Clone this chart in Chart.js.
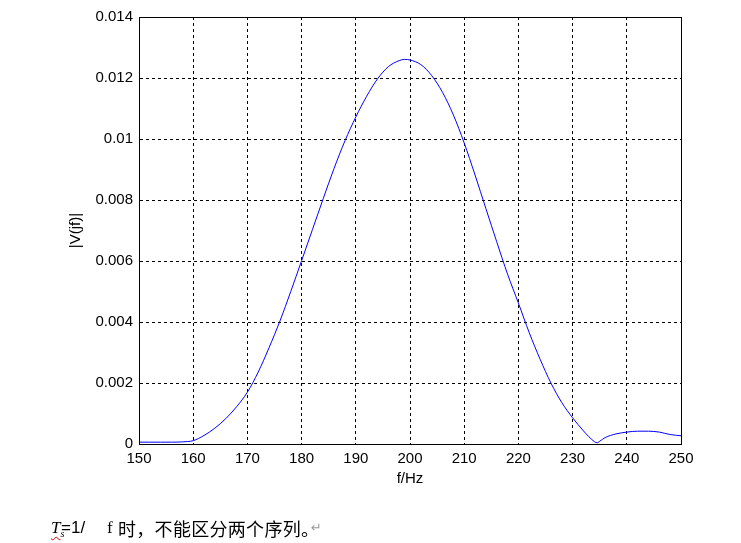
<!DOCTYPE html>
<html>
<head>
<meta charset="utf-8">
<script src="https://cdn.jsdelivr.net/npm/chart.js@4.4.1/dist/chart.umd.min.js"></script>
<style>
  html, body { margin: 0; padding: 0; background: #fff; }
  #wrap { position: relative; width: 741px; height: 543px; overflow: hidden; }
  #c { position: absolute; left: 0; top: 0; }
  .n { position: absolute; top: 516px; color: #000; white-space: pre; line-height: 24px; }
  .t { left: 51px; font-family: "Liberation Serif", serif; font-style: italic; font-size: 17px;
       text-decoration: underline wavy #e00000; text-decoration-thickness: 1px; text-underline-offset: 3px; }
  .eq { left: 61px; font-family: "Liberation Sans", sans-serif; font-size: 17px; }
  .f { left: 107px; font-family: "Liberation Serif", serif; font-size: 17px; }
  .cjk { left: 118px; font-family: "Noto Sans CJK SC", sans-serif; font-size: 18px; letter-spacing: 0.3px; }
  .ret { left: 311px; color: #999; font-family: "DejaVu Sans", sans-serif; font-size: 13px; }
</style>
</head>
<body>
<div id="wrap">
  <canvas id="c" width="741" height="543"></canvas>
  <span class="n t">T<sub style="font-size:10px">s</sub></span>
  <span class="n eq">=1/</span>
  <span class="n f">f</span>
  <span class="n cjk">时，不能区分两个序列。</span>
  <span class="n ret">↵</span>
</div>
<script>
// Frequency (Hz)
const freqs = [150, 152, 154, 156, 158, 160, 162, 164, 166, 168, 170, 172, 174, 176, 178,
  180, 182, 184, 186, 188, 190, 192, 194, 196, 198, 199, 200, 202, 204, 206, 208,
  210, 212, 214, 216, 218, 220, 222, 224, 226, 228, 230, 232, 233, 234, 234.5, 235,
  236, 238, 240, 242, 244, 246, 248, 250];
// |V(jf)|
const mags = [0.00006, 0.00006, 0.00006, 0.00006, 0.00007, 0.00011, 0.00028, 0.00052, 0.00083, 0.00122, 0.00170, 0.00236, 0.00316, 0.00403, 0.00500,
  0.00601, 0.00703, 0.00805, 0.00904, 0.00994, 0.01072, 0.01140, 0.01197, 0.01237, 0.01257, 0.01261, 0.01259, 0.01244, 0.01208, 0.01153, 0.01079,
  0.00987, 0.00882, 0.00772, 0.00663, 0.00557, 0.00462, 0.00365, 0.00278, 0.00200, 0.00136, 0.00086, 0.00043, 0.00024, 0.00008, 0.00004, 0.00009,
  0.00021, 0.00033, 0.00039, 0.00042, 0.00042, 0.00039, 0.00031, 0.00027];
const xTicks = [150, 160, 170, 180, 190, 200, 210, 220, 230, 240, 250];
const yTicks = [0, 0.002, 0.004, 0.006, 0.008, 0.01, 0.012, 0.014];
const xTitle = 'f/Hz';
const yTitle = '|V(jf)|';

const points = freqs.map((f, i) => ({ x: f, y: mags[i] }));

const frame = {
  id: 'frame',
  afterDatasetsDraw(chart) {
    const { ctx, chartArea: a } = chart;
    ctx.save();
    ctx.strokeStyle = '#000';
    ctx.lineWidth = 1;
    ctx.setLineDash([]);
    ctx.strokeRect(Math.round(a.left) + 0.5, Math.round(a.top) + 0.5,
      Math.round(a.right - a.left), Math.round(a.bottom - a.top));
    ctx.restore();
  }
};

const tickFont = { family: 'Liberation Sans, Arial, sans-serif', size: 15 };

new Chart(document.getElementById('c'), {
  type: 'line',
  data: {
    datasets: [{
      data: points,
      borderColor: '#0000ff',
      borderWidth: 1,
      pointRadius: 0,
      fill: false,
      cubicInterpolationMode: 'monotone'
    }]
  },
  options: {
    responsive: false,
    animation: false,
    devicePixelRatio: 1,
    layout: { padding: { left: 0, right: 60, top: 17, bottom: 0 } },
    plugins: { legend: { display: false }, tooltip: { enabled: false } },
    scales: {
      x: {
        type: 'linear',
        min: 150, max: 250,
        afterBuildTicks(s) { s.ticks = xTicks.map(v => ({ value: v })); },
        afterFit(s) { s.height = 99; },
        ticks: { color: '#000', font: tickFont, padding: 6, maxRotation: 0, autoSkip: false },
        grid: { color: '#000', lineWidth: 1, drawTicks: false },
        border: { display: true, color: '#000', width: 1, dash: [3, 3] },
        title: { display: true, text: xTitle, color: '#000', font: tickFont, padding: { top: 0, bottom: 55 } }
      },
      y: {
        type: 'linear',
        min: 0, max: 0.014,
        afterBuildTicks(s) { s.ticks = yTicks.map(v => ({ value: v })); },
        afterFit(s) { s.width = 139; },
        ticks: {
          color: '#000', font: tickFont, padding: 6, autoSkip: false,
          callback: v => String(+v.toFixed(3))
        },
        grid: { color: '#000', lineWidth: 1, drawTicks: false },
        border: { display: true, color: '#000', width: 1, dash: [3, 3] },
        title: { display: true, text: yTitle, color: '#000', font: tickFont, padding: { top: 67, bottom: 0 } }
      }
    }
  },
  plugins: [frame]
});
</script>
</body>
</html>
